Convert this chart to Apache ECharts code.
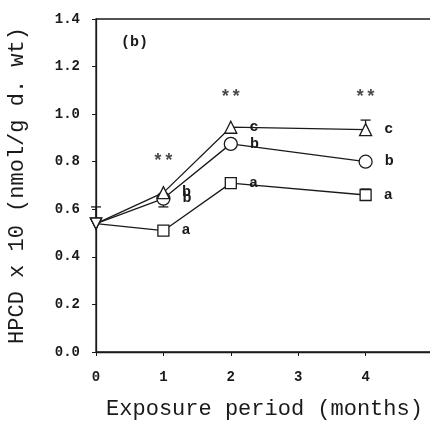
<!DOCTYPE html>
<html lang="en">
<head>
<meta charset="UTF-8">
<title>HPCD exposure</title>
<script src="https://cdn.jsdelivr.net/npm/echarts@6/dist/echarts.min.js"></script>
<style>
  html, body { margin: 0; padding: 0; background: #fff; }
  #container { width: 430px; height: 427px; }
</style>
</head>
<body>
<div id="container"></div>
<script>
  // months on x axis
  var months = [0, 1, 2, 4];
  // HPCD x 10 values
  var squareVals = [0.54, 0.51, 0.71, 0.66];
  var circleVals = [0.54, 0.645, 0.875, 0.80];
  var triangleVals = [0.54, 0.67, 0.945, 0.935];
  // letters next to each point
  var squareLetters = ['', 'a', 'a', 'a'];
  var circleLetters = ['', 'b', 'b', 'b'];
  var triangleLetters = ['', 'b', 'c', 'c'];
  // significance stars
  var starMonths = [1, 2, 4];
  var starVals = [0.80, 1.07, 1.07];
  // visible error bars: [month, mean, end of bar]
  var errBars = [
    [0, 0.54, 0.61],
    [1, 0.645, 0.61],
    [4, 0.935, 0.975],
    [4, 0.66, 0.685]
  ];

  var ink = '#1a1a1a';
  var mono = '"Liberation Mono", "DejaVu Sans Mono", monospace';

  function buildData(vals, letters) {
    var out = [];
    for (var i = 0; i < months.length; i++) {
      var item = { value: [months[i], vals[i]], label: { formatter: letters[i] } };
      if (months[i] === 0) {
        // control point drawn as an inverted triangle
        item.symbol = 'triangle';
        item.symbolRotate = 180;
        item.symbolSize = 11;
      }
      out.push(item);
    }
    return out;
  }

  function lineSeries(name, vals, letters, symbol, size) {
    return {
      name: name,
      type: 'line',
      data: buildData(vals, letters),
      symbol: symbol,
      symbolSize: size,
      showAllSymbol: true,
      itemStyle: { color: '#fff', borderColor: ink, borderWidth: 1.3 },
      lineStyle: { color: ink, width: 1.3 },
      label: {
        show: true,
        position: 'right',
        distance: 12,
        color: ink,
        fontFamily: mono,
        fontWeight: 'bold',
        fontSize: 15
      },
      z: 3
    };
  }

  var chart = echarts.init(document.getElementById('container'));

  var starData = [];
  for (var k = 0; k < starMonths.length; k++) starData.push([starMonths[k], starVals[k]]);

  var option = {
    backgroundColor: '#fff',
    animation: false,
    title: {
      text: '(b)',
      left: 116,
      top: 30,
      textStyle: { fontFamily: mono, fontSize: 15, fontWeight: 'bold', color: ink }
    },
    grid: {
      left: 96,
      right: -3,
      top: 19,
      bottom: 75,
      outerBoundsMode: 'none',
      containLabel: false,
      show: true,
      borderColor: ink,
      borderWidth: 1.3
    },
    xAxis: {
      type: 'value',
      min: 0,
      max: 5,
      interval: 1,
      name: 'Exposure period (months)',
      nameLocation: 'middle',
      nameGap: 46,
      nameTextStyle: { fontFamily: mono, fontSize: 22, color: ink },
      axisLine: { lineStyle: { color: ink, width: 1.3 } },
      axisTick: { length: 4, lineStyle: { color: ink } },
      axisLabel: {
        margin: 18,
        fontFamily: mono,
        fontWeight: 'bold',
        fontSize: 14,
        color: ink,
        formatter: function (v) { return v === 5 ? '' : String(v); }
      },
      splitLine: { show: false }
    },
    yAxis: {
      type: 'value',
      min: 0,
      max: 1.4,
      interval: 0.2,
      name: 'HPCD x 10 (nmol/g d. wt)',
      nameLocation: 'middle',
      nameGap: 68,
      nameTextStyle: { fontFamily: mono, fontSize: 22, color: ink },
      axisLine: { show: true, lineStyle: { color: ink, width: 1.3 } },
      axisTick: { show: true, length: 4, lineStyle: { color: ink } },
      axisLabel: {
        margin: 16,
        fontFamily: mono,
        fontWeight: 'bold',
        fontSize: 14,
        color: ink,
        formatter: function (v) { return v.toFixed(1); }
      },
      splitLine: { show: false }
    },
    series: [
      {
        name: 'errors',
        type: 'custom',
        data: errBars,
        z: 2,
        renderItem: function (params, api) {
          var p0 = api.coord([api.value(0), api.value(1)]);
          var p1 = api.coord([api.value(0), api.value(2)]);
          var style = { stroke: ink, lineWidth: 1.3 };
          return {
            type: 'group',
            children: [
              { type: 'line', shape: { x1: p0[0], y1: p0[1], x2: p1[0], y2: p1[1] }, style: style },
              { type: 'line', shape: { x1: p1[0] - 5, y1: p1[1], x2: p1[0] + 5, y2: p1[1] }, style: style }
            ]
          };
        }
      },
      lineSeries('a', squareVals, squareLetters, 'rect', 11),
      lineSeries('b', circleVals, circleLetters, 'circle', 13),
      lineSeries('c', triangleVals, triangleLetters, 'triangle', 12),
      {
        name: 'stars',
        type: 'scatter',
        data: starData,
        symbolSize: 0,
        label: {
          show: true,
          position: 'inside',
          formatter: '**',
          fontFamily: mono,
          fontWeight: 'bold',
          fontSize: 18,
          color: ink
        }
      }
    ]
  };

  chart.setOption(option);
</script>
</body>
</html>
